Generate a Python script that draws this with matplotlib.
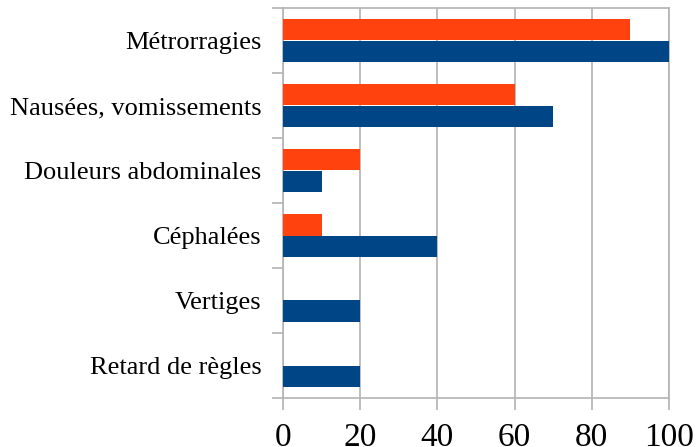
import numpy as np
import matplotlib
matplotlib.use("Agg")
import matplotlib.pyplot as plt

plt.rcParams['font.family'] = ['Liberation Serif', 'DejaVu Serif']

symptoms = ["Métrorragies", "Nausées, vomissements", "Douleurs abdominales",
            "Céphalées", "Vertiges", "Retard de règles"]
orange_vals = [90, 60, 20, 10, 0, 0]
blue_vals = [100, 70, 10, 40, 20, 20]
x_ticks = [0, 20, 40, 60, 80, 100]

BLUE = '#004586'
ORANGE = '#ff420e'
GRID = '#b3b3b3'

fig = plt.figure(figsize=(6.96, 4.47), dpi=100)
ax = fig.add_axes([283 / 696, 1 - 398 / 447, (669 - 283) / 696, 390 / 447])

pos = np.arange(len(symptoms))
h = 0.338
ax.barh(pos + h / 2, blue_vals, height=h, color=BLUE, zorder=3)
ax.barh(pos - h / 2, orange_vals, height=h, color=ORANGE, zorder=3)

ax.set_xlim(0, 100)
ax.set_ylim(len(symptoms) - 0.5, -0.5)
ax.set_xticks(x_ticks)
ax.set_xticklabels([str(v) for v in x_ticks], fontsize=24)
ax.xaxis.grid(True, color=GRID, linewidth=1.2, zorder=0)

# category labels centred in each band, tick marks on the band edges
ax.set_yticks(pos)
ax.set_yticklabels(symptoms, fontsize=19)
ax.set_yticks(np.arange(len(symptoms) + 1) - 0.5, minor=True)
ax.tick_params(axis='y', which='major', length=0, pad=15.5)
ax.tick_params(axis='y', which='minor', length=8, width=1.2, color=GRID,
               direction='out')
ax.tick_params(axis='x', length=8.5, width=1.2, color=GRID, pad=9)

for side in ['left', 'bottom', 'top', 'right']:
    ax.spines[side].set_color(GRID)
    ax.spines[side].set_linewidth(1.2)

fig.savefig("out.png", dpi=100)
